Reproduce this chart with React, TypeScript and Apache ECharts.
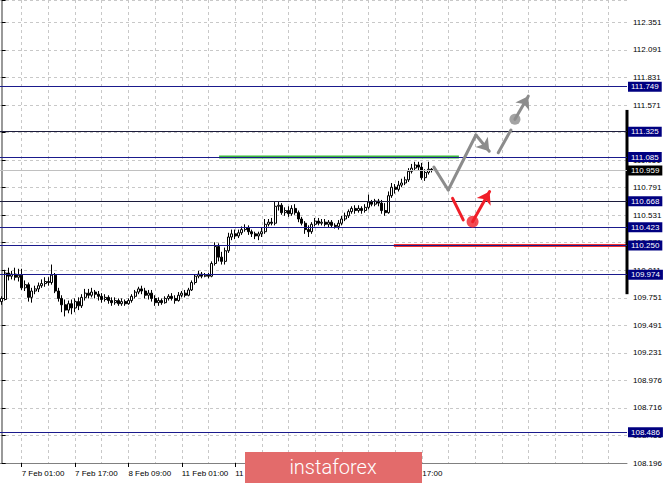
import { useEffect, useRef } from 'react';
import * as echarts from 'echarts';

// H1 bars, one category per hour; the right part is left empty for the forecast
const CATEGORY_COUNT = 188;
const CATEGORIES = Array.from({ length: CATEGORY_COUNT }, (_, i) => String(i));

const X_LABEL_INDEX = [6, 22, 38, 54, 70, 86, 102, 118];
const X_LABELS = [
  '7 Feb 01:00',
  '7 Feb 17:00',
  '8 Feb 09:00',
  '11 Feb 01:00',
  '11 Feb 17:00',
  '12 Feb 09:00',
  '13 Feb 01:00',
  '13 Feb 17:00',
];

const Y_MIN = 108.196;
const Y_MAX = 112.568;
const Y_STEP = 0.26;
const Y_TICK_LABELS = [
  '108.196', '108.456', '108.716', '108.976', '109.231', '109.491',
  '109.751', '110.011', '110.271', '110.531', '110.791', '111.051',
  '111.311', '111.571', '111.831', '112.091', '112.351',
];

// [open, close, low, high]
const CANDLES: number[][] = [
  [109.72, 109.75, 109.69, 109.77],
  [109.74, 109.99, 109.73, 110.02],
  [109.99, 109.96, 109.92, 110.04],
  [109.96, 109.98, 109.93, 110.01],
  [109.98, 109.95, 109.92, 110.04],
  [109.95, 109.97, 109.91, 110.03],
  [109.97, 109.85, 109.83, 110.03],
  [109.85, 109.88, 109.82, 109.92],
  [109.88, 109.76, 109.72, 109.90],
  [109.76, 109.82, 109.71, 109.85],
  [109.82, 109.84, 109.79, 109.87],
  [109.84, 109.87, 109.81, 109.90],
  [109.87, 109.89, 109.85, 109.93],
  [109.89, 109.91, 109.86, 109.95],
  [109.91, 109.90, 109.87, 109.95],
  [109.90, 109.97, 109.88, 110.07],
  [109.97, 109.82, 109.80, 109.99],
  [109.82, 109.75, 109.72, 109.85],
  [109.75, 109.69, 109.62, 109.78],
  [109.69, 109.64, 109.58, 109.74],
  [109.64, 109.70, 109.61, 109.73],
  [109.70, 109.66, 109.60, 109.74],
  [109.66, 109.72, 109.62, 109.75],
  [109.72, 109.68, 109.64, 109.76],
  [109.68, 109.76, 109.66, 109.79],
  [109.76, 109.80, 109.73, 109.84],
  [109.80, 109.78, 109.75, 109.84],
  [109.78, 109.81, 109.76, 109.85],
  [109.81, 109.79, 109.75, 109.83],
  [109.79, 109.77, 109.73, 109.82],
  [109.77, 109.74, 109.71, 109.80],
  [109.74, 109.76, 109.72, 109.79],
  [109.76, 109.73, 109.70, 109.78],
  [109.73, 109.71, 109.68, 109.76],
  [109.71, 109.73, 109.69, 109.76],
  [109.73, 109.70, 109.68, 109.75],
  [109.70, 109.72, 109.68, 109.75],
  [109.72, 109.70, 109.68, 109.74],
  [109.70, 109.73, 109.69, 109.75],
  [109.73, 109.77, 109.71, 109.79],
  [109.77, 109.81, 109.75, 109.83],
  [109.81, 109.84, 109.79, 109.86],
  [109.84, 109.82, 109.79, 109.87],
  [109.82, 109.78, 109.75, 109.85],
  [109.78, 109.80, 109.74, 109.83],
  [109.80, 109.75, 109.72, 109.83],
  [109.75, 109.71, 109.68, 109.78],
  [109.71, 109.73, 109.68, 109.76],
  [109.73, 109.71, 109.69, 109.75],
  [109.71, 109.75, 109.70, 109.77],
  [109.75, 109.77, 109.73, 109.79],
  [109.77, 109.75, 109.73, 109.80],
  [109.75, 109.73, 109.70, 109.78],
  [109.73, 109.78, 109.72, 109.81],
  [109.78, 109.80, 109.76, 109.82],
  [109.80, 109.78, 109.76, 109.83],
  [109.78, 109.83, 109.77, 109.85],
  [109.83, 109.90, 109.82, 109.92],
  [109.90, 109.96, 109.88, 109.98],
  [109.96, 109.98, 109.94, 110.01],
  [109.98, 109.96, 109.94, 110.00],
  [109.96, 109.97, 109.95, 109.99],
  [109.97, 109.96, 109.94, 109.99],
  [109.96, 110.08, 109.95, 110.10],
  [110.08, 110.24, 110.06, 110.28],
  [110.24, 110.14, 110.10, 110.27],
  [110.14, 110.10, 110.07, 110.19],
  [110.10, 110.20, 110.07, 110.23],
  [110.20, 110.33, 110.18, 110.37],
  [110.33, 110.36, 110.30, 110.40],
  [110.36, 110.34, 110.31, 110.40],
  [110.34, 110.37, 110.32, 110.40],
  [110.37, 110.40, 110.35, 110.43],
  [110.40, 110.42, 110.38, 110.45],
  [110.42, 110.38, 110.35, 110.44],
  [110.38, 110.36, 110.33, 110.40],
  [110.36, 110.34, 110.31, 110.38],
  [110.34, 110.36, 110.30, 110.38],
  [110.36, 110.38, 110.33, 110.42],
  [110.38, 110.45, 110.36, 110.50],
  [110.45, 110.47, 110.43, 110.50],
  [110.47, 110.46, 110.44, 110.51],
  [110.46, 110.62, 110.44, 110.66],
  [110.62, 110.63, 110.58, 110.66],
  [110.63, 110.56, 110.54, 110.65],
  [110.56, 110.58, 110.53, 110.61],
  [110.58, 110.55, 110.52, 110.62],
  [110.55, 110.60, 110.53, 110.63],
  [110.60, 110.56, 110.54, 110.64],
  [110.56, 110.50, 110.47, 110.58],
  [110.50, 110.46, 110.44, 110.52],
  [110.46, 110.40, 110.36, 110.48],
  [110.40, 110.38, 110.33, 110.44],
  [110.38, 110.45, 110.36, 110.47],
  [110.45, 110.48, 110.43, 110.51],
  [110.48, 110.46, 110.44, 110.51],
  [110.46, 110.47, 110.44, 110.50],
  [110.47, 110.45, 110.43, 110.50],
  [110.45, 110.47, 110.42, 110.49],
  [110.47, 110.44, 110.42, 110.49],
  [110.44, 110.43, 110.41, 110.46],
  [110.43, 110.46, 110.40, 110.49],
  [110.46, 110.50, 110.44, 110.53],
  [110.50, 110.53, 110.48, 110.56],
  [110.53, 110.57, 110.51, 110.59],
  [110.57, 110.60, 110.55, 110.62],
  [110.60, 110.58, 110.55, 110.63],
  [110.58, 110.60, 110.56, 110.63],
  [110.60, 110.58, 110.55, 110.62],
  [110.58, 110.61, 110.56, 110.64],
  [110.61, 110.66, 110.59, 110.73],
  [110.66, 110.64, 110.62, 110.68],
  [110.64, 110.67, 110.62, 110.69],
  [110.67, 110.65, 110.62, 110.69],
  [110.65, 110.58, 110.55, 110.68],
  [110.58, 110.56, 110.53, 110.65],
  [110.56, 110.72, 110.55, 110.76],
  [110.72, 110.80, 110.70, 110.84],
  [110.80, 110.78, 110.74, 110.83],
  [110.78, 110.82, 110.76, 110.86],
  [110.82, 110.84, 110.80, 110.88],
  [110.84, 110.87, 110.82, 110.90],
  [110.87, 110.95, 110.85, 110.98],
  [110.95, 110.98, 110.93, 111.02],
  [110.98, 111.01, 110.96, 111.04],
  [111.01, 110.99, 110.96, 111.04],
  [110.99, 110.89, 110.87, 111.03],
  [110.89, 110.94, 110.86, 110.97],
  [110.94, 110.97, 110.92, 111.04],
  [110.97, 110.96, 110.94, 110.98],
];

const LEVELS = [111.749, 111.325, 111.085, 110.668, 110.423, 110.25, 109.974, 108.486];
const DARK_LEVELS = [111.325, 110.668];
const LAST_PRICE = 110.959;

// [hour index, price] on the hidden value axis
const GREEN_LINE = [[65.2, 111.085], [137.1, 111.085]];
const RED_LINE = [[117.6, 110.25], [187.5, 110.25]];
const SCALE_BAR = [[187.5, 111.53], [187.5, 109.79]];

const GRAY_PATH = [[129.6, 110.99], [133.9, 110.774], [142.2, 111.293], [146.2, 111.14]];
const GRAY_STEP = [[148.9, 111.126], [152.7, 111.34]];
const GRAY_DOT = [153.9, 111.441];
const GRAY_TIP = [157.9, 111.66];

const RED_PATH = [[135.2, 110.695], [138.4, 110.491]];
const RED_DOT = [141.2, 110.475];
const RED_TIP = [146.3, 110.76];

const FONT = 'Liberation Sans';
const NAVY = '#1a1a8c';

function segments(points: number[][], arrow: boolean) {
  const out: any[] = [];
  for (let i = 1; i < points.length; i++) {
    const last = i === points.length - 1;
    out.push([
      { coord: points[i - 1], symbol: 'none' },
      { coord: points[i], symbol: arrow && last ? 'arrow' : 'none' },
    ]);
  }
  return out;
}

function tickLabel(val: number) {
  const k = Math.round((val - Y_MIN) / Y_STEP);
  if (Math.abs(Y_MIN + k * Y_STEP - val) > 1e-6) return '';
  return Y_TICK_LABELS[k] ?? '';
}

export default function App() {
  const chartRef = useRef<HTMLDivElement>(null);

  useEffect(() => {
    if (!chartRef.current) return;
    const chart = echarts.init(chartRef.current, undefined, { renderer: 'svg' });

    const levelBox = (bg: string, value: number) => ({
      show: true,
      position: 'end',
      distance: 1,
      formatter: value.toFixed(3),
      backgroundColor: bg,
      color: '#ffffff',
      fontSize: 8,
      fontFamily: FONT,
      padding: [1, 3, 1, 3],
    });

    const option: any = {
      animation: false,
      grid: { left: 0, right: 38, top: 0, bottom: 20 },
      xAxis: [
        {
          type: 'category',
          data: CATEGORIES,
          boundaryGap: true,
          axisLine: { lineStyle: { color: '#808080' } },
          axisTick: {
            show: true,
            alignWithLabel: true,
            length: 4,
            interval: (i: number) => X_LABEL_INDEX.includes(i),
            lineStyle: { color: '#000' },
          },
          axisLabel: {
            interval: (i: number) => X_LABEL_INDEX.includes(i),
            formatter: (v: string) => {
              const k = X_LABEL_INDEX.indexOf(Number(v));
              return k >= 0 ? X_LABELS[k] : '';
            },
            align: 'left',
            fontSize: 8,
            fontFamily: FONT,
            color: '#000',
            margin: 6,
          },
          splitLine: {
            show: true,
            alignWithLabel: true,
            interval: (i: number) => i >= 6 && (i - 6) % 8 === 0,
            lineStyle: { type: [3, 3], color: '#c8c8c8' },
          },
        },
        { type: 'value', min: -0.5, max: CATEGORY_COUNT - 0.5, show: false },
      ],
      yAxis: {
        type: 'value',
        position: 'right',
        scale: true,
        min: Y_MIN,
        max: Y_MAX,
        interval: Y_STEP,
        axisLine: { show: true, lineStyle: { color: '#999999', width: 2 } },
        axisTick: { show: true, length: 4, lineStyle: { color: '#000' } },
        axisLabel: { formatter: tickLabel, fontSize: 8, fontFamily: FONT, color: '#000', margin: 6 },
        splitLine: { lineStyle: { type: [3, 3], color: '#c8c8c8' } },
      },
      series: [
        {
          type: 'candlestick',
          data: CANDLES,
          barWidth: 2.5,
          silent: true,
          itemStyle: {
            color: '#ffffff',
            color0: '#000000',
            borderColor: '#000000',
            borderColor0: '#000000',
            borderWidth: 1,
          },
          markLine: {
            silent: true,
            symbol: 'none',
            precision: 3,
            data: [
              {
                yAxis: LAST_PRICE,
                lineStyle: { color: '#c0c0c0', width: 1, type: 'solid' },
                label: levelBox('#000000', LAST_PRICE),
              },
              ...LEVELS.map((v) => ({
                yAxis: v,
                lineStyle: { color: DARK_LEVELS.includes(v) ? '#1c1c3c' : NAVY, width: 1, type: 'solid' },
                label: levelBox('#000080', v),
              })),
            ],
          },
        },
        {
          type: 'line',
          xAxisIndex: 1,
          data: GREEN_LINE,
          symbol: 'none',
          silent: true,
          lineStyle: { color: '#3cb83c', width: 3 },
        },
        {
          type: 'line',
          xAxisIndex: 1,
          data: RED_LINE,
          symbol: 'none',
          silent: true,
          lineStyle: { color: '#f03030', width: 3 },
        },
        {
          type: 'line',
          xAxisIndex: 1,
          data: SCALE_BAR,
          symbol: 'none',
          silent: true,
          clip: false,
          lineStyle: { color: '#000000', width: 3 },
        },
        {
          type: 'scatter',
          xAxisIndex: 1,
          data: [GRAY_DOT],
          symbolSize: 11,
          silent: true,
          z: 6,
          itemStyle: { color: '#8c8c8c' },
          markLine: {
            silent: true,
            symbolSize: 12,
            label: { show: false },
            lineStyle: { color: '#8c8c8c', width: 3, type: 'solid', cap: 'round' },
            data: [
              ...segments(GRAY_PATH, true),
              ...segments(GRAY_STEP, false),
              ...segments([GRAY_DOT, GRAY_TIP], true),
            ],
          },
        },
        {
          type: 'scatter',
          xAxisIndex: 1,
          data: [RED_DOT],
          symbolSize: 12,
          silent: true,
          z: 6,
          itemStyle: { color: '#f01e28' },
          markLine: {
            silent: true,
            symbolSize: 12,
            label: { show: false },
            lineStyle: { color: '#f01e28', width: 3, type: 'solid', cap: 'round' },
            data: [...segments(RED_PATH, false), ...segments([RED_DOT, RED_TIP], true)],
          },
        },
      ],
      graphic: [
        {
          type: 'rect',
          x: 245,
          y: 452,
          shape: { width: 177, height: 31 },
          style: { fill: '#e36b6b' },
          z: 100,
        },
        {
          type: 'text',
          x: 333,
          y: 467,
          style: {
            text: 'instaforex',
            fill: '#ffffff',
            fontSize: 20,
            fontFamily: 'Roboto',
            fontWeight: 300,
            align: 'center',
            verticalAlign: 'middle',
          },
          z: 101,
        },
      ],
    };

    chart.setOption(option);
    return () => chart.dispose();
  }, []);

  return (
    <div
      ref={chartRef}
      style={{ position: 'absolute', left: 0, top: 0, width: 665, height: 483, background: '#ffffff' }}
    />
  );
}
